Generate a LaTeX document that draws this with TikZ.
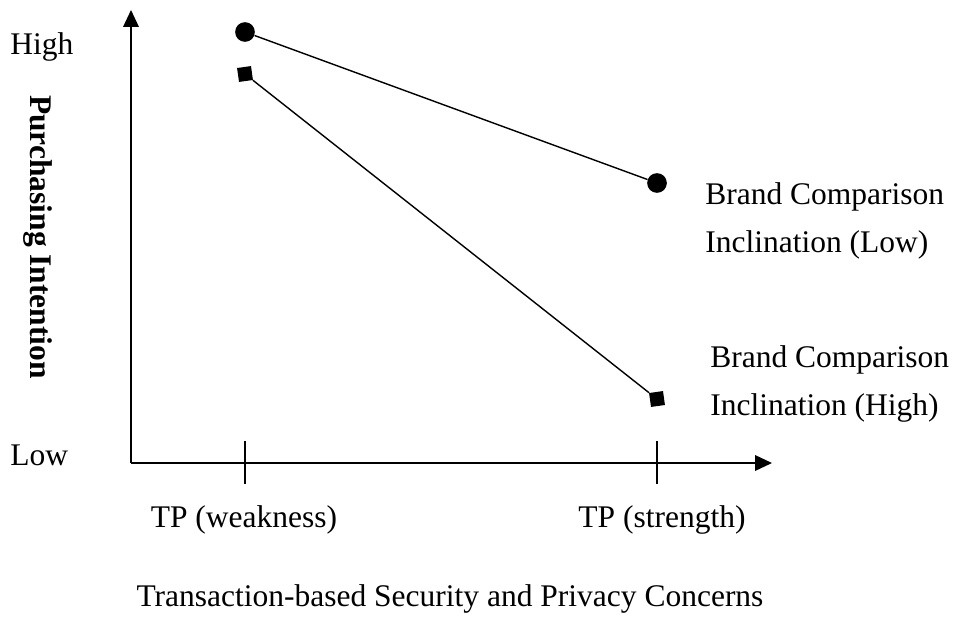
\documentclass[tikz,border=0pt]{standalone}
\usepackage{fontspec}
\setmainfont{Liberation Serif}
\usetikzlibrary{arrows.meta}

\begin{document}
\begin{tikzpicture}[x=0.025cm,y=-0.025cm,
    axis/.style={line width=1.3pt,-{Triangle[length=12pt,width=11pt]}},
    trend/.style={line width=1pt},
    lbl/.style={font=\fontsize{22.4}{26}\selectfont,inner sep=0pt}]

    \useasboundingbox (0,0) rectangle (959,619);

    %%% Axes %%%
    \coordinate (o) at (131,463);
    \coordinate (ytop) at (131,10);
    \coordinate (xend) at (772,463);
    \draw[axis] (o) -- (ytop);
    \draw[axis] (o) -- (xend);

    \coordinate (t1a) at (245,441);
    \coordinate (t1b) at (245,484);
    \coordinate (t2a) at (657,441);
    \coordinate (t2b) at (657,484);
    \draw[line width=1.3pt] (t1a) -- (t1b);
    \draw[line width=1.3pt] (t2a) -- (t2b);

    %%% Lines %%%
    \node[circle,fill,inner sep=0pt,minimum size=14] (c1) at (245,32) {};
    \node[circle,fill,inner sep=0pt,minimum size=14] (c2) at (657,183) {};
    \node[fill,inner sep=0pt,minimum size=10,rotate=8] (s1) at (245,74) {};
    \node[fill,inner sep=0pt,minimum size=10,rotate=8] (s2) at (657,399) {};
    \draw[trend] (c1) -- (c2);
    \draw[trend] (s1) -- (s2);

    %%% Labels %%%
    \node[lbl,anchor=west] (high) at (10,47) {High};
    \node[lbl,anchor=west] (low) at (10,455) {Low};
    \node[lbl,rotate=-90,font=\fontsize{22.4}{26}\selectfont\bfseries] (pi) at (38,237) {Purchasing Intention};

    \node[lbl,align=left,anchor=west] (bcl) at (705,221) {Brand Comparison\\[8pt]Inclination (Low)};
    \node[lbl,align=left,anchor=west] (bch) at (710,384) {Brand Comparison\\[8pt]Inclination (High)};

    \node[lbl] (tpw) at (244,520) {TP (weakness)};
    \node[lbl] (tps) at (662,520) {TP (strength)};
    \node[lbl] (xlab) at (450,599) {Transaction-based Security and Privacy Concerns};

\end{tikzpicture}
\end{document}
